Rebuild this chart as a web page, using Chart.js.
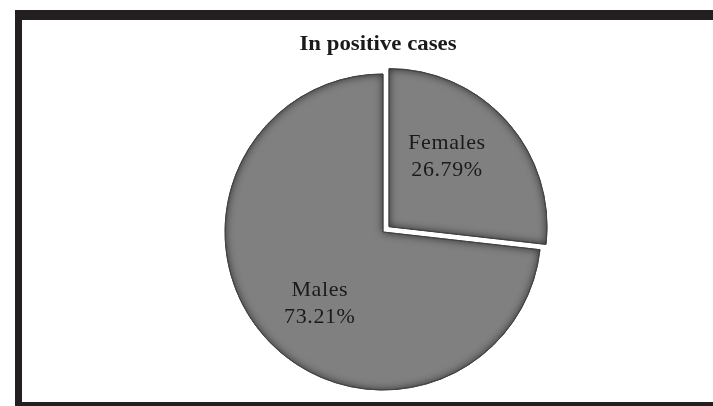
<!DOCTYPE html>
<html>
<head>
<meta charset="utf-8">
<script src="https://cdn.jsdelivr.net/npm/chart.js@4.4.1/dist/chart.umd.min.js"></script>
<style>
  html, body { margin: 0; padding: 0; background: #ffffff; }
  body { width: 713px; height: 406px; position: relative; overflow: hidden; }
  .frame { position: absolute; background: #231f20; z-index: 2; }
  #frameTop { left: 15px; top: 10px; width: 698px; height: 10px; }
  #frameLeft { left: 15px; top: 10px; width: 7px; height: 396px; }
  #frameBottom { left: 15px; top: 402px; width: 698px; height: 4px; }
  #wrap { position: absolute; left: 0; top: 0; width: 713px; height: 440px; z-index: 1; }
</style>
</head>
<body>
<div id="wrap"><canvas id="chart" width="713" height="440"></canvas></div>
<div class="frame" id="frameTop"></div>
<div class="frame" id="frameLeft"></div>
<div class="frame" id="frameBottom"></div>
<script>
const chartTitle = "In positive cases";
const categories = ["Females", "Males"];
const shares = [26.79, 73.21];
const explode = [32, 0];

// label anchors relative to each slice centre, as fractions of the radius
const labelAnchors = [
  { dx: 0.367, dy: -0.443 },
  { dx: -0.40, dy: 0.452 }
];

// same displacement Chart.js applies to an exploded arc
function arcShift(arc) {
  const off = (arc.options.offset || 0) / 4;
  const half = (arc.startAngle + arc.endAngle) / 2;
  const fix = 1 - Math.sin(Math.min(Math.PI, arc.circumference || 0));
  const d = off + off * fix;
  return { x: arc.x + Math.cos(half) * d, y: arc.y + Math.sin(half) * d };
}

// inner shadow along every edge of each slice, giving the bevelled look
const bevelPlugin = {
  id: "sliceBevel",
  afterDatasetsDraw(chart) {
    const ctx = chart.ctx;
    const meta = chart.getDatasetMeta(0);
    meta.data.forEach((arc) => {
      if (!Number.isFinite(arc.x) || !Number.isFinite(arc.outerRadius)) return;
      const c = arcShift(arc);
      const r = arc.outerRadius;
      const slice = new Path2D();
      slice.moveTo(c.x, c.y);
      slice.arc(c.x, c.y, r, arc.startAngle, arc.endAngle);
      slice.closePath();
      ctx.save();
      ctx.clip(slice);
      const ring = new Path2D();
      ring.rect(c.x - r - 60, c.y - r - 60, 2 * r + 120, 2 * r + 120);
      ring.addPath(slice);
      ctx.shadowColor = "rgba(20,20,20,0.8)";
      ctx.shadowBlur = 8;
      ctx.fillStyle = "rgba(0,0,0,1)";
      ctx.fill(ring, "evenodd");
      ctx.restore();
      ctx.save();
      ctx.strokeStyle = "rgba(70,70,70,0.9)";
      ctx.lineWidth = 1;
      ctx.stroke(slice);
      ctx.restore();
    });
  }
};

const labelPlugin = {
  id: "sliceLabels",
  afterDatasetsDraw(chart) {
    const ctx = chart.ctx;
    const meta = chart.getDatasetMeta(0);
    ctx.save();
    ctx.fillStyle = "#1a1a1a";
    ctx.font = "22px 'Liberation Serif', 'Times New Roman', serif";
    ctx.letterSpacing = "0.6px";
    ctx.textAlign = "center";
    ctx.textBaseline = "middle";
    meta.data.forEach((arc, i) => {
      const c = arcShift(arc);
      const r = arc.outerRadius;
      const x = c.x + labelAnchors[i].dx * r;
      const y = c.y + labelAnchors[i].dy * r;
      ctx.fillText(categories[i], x, y - 13);
      ctx.fillText(shares[i].toFixed(2) + "%", x, y + 14);
    });
    ctx.restore();

    // chart heading, condensed bold serif
    ctx.save();
    ctx.fillStyle = "#1a1a1a";
    ctx.font = "bold 21px 'Liberation Serif', 'Times New Roman', serif";
    ctx.textAlign = "center";
    ctx.textBaseline = "alphabetic";
    const w = ctx.measureText(chartTitle).width;
    ctx.translate(378, 50);
    ctx.scale(157 / w, 1);
    ctx.fillText(chartTitle, 0, 0);
    ctx.restore();
  }
};

new Chart(document.getElementById("chart"), {
  type: "pie",
  data: {
    labels: categories,
    datasets: [{
      data: shares,
      backgroundColor: "#808080",
      borderColor: "#5a5a5a",
      borderWidth: 1,
      offset: explode,
      hoverOffset: 0
    }]
  },
  options: {
    responsive: false,
    animation: false,
    events: [],
    rotation: 0,
    layout: { padding: { left: 208.5, right: 155.5, top: 57.5, bottom: 33.5 } },
    plugins: {
      legend: { display: false },
      title: { display: false },
      tooltip: { enabled: false }
    }
  },
  plugins: [bevelPlugin, labelPlugin]
});
</script>
</body>
</html>
